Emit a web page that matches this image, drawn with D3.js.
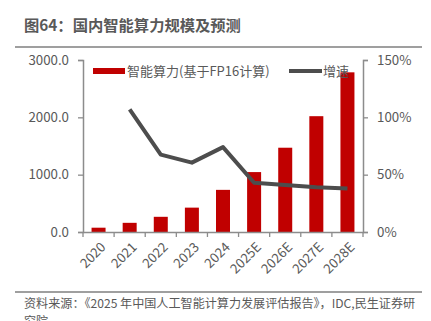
<!DOCTYPE html>
<html><head><meta charset="utf-8">
<script src="https://cdn.jsdelivr.net/npm/d3@7"></script>
<style>body{margin:0;background:#fff}svg{display:block}text{font-family:"Noto Sans CJK SC","Microsoft YaHei",sans-serif}</style>
</head><body>
<script>
const categories = ["2020","2021","2022","2023","2024","2025E","2026E","2027E","2028E"];
const computeValues = [75, 160, 265, 425, 735, 1045, 1470, 2020, 2785];
const growthValues = [null, 107, 67.5, 60.5, 74, 43, 41, 39, 38];
const leftTicks = [0, 1000, 2000, 3000];
const rightTicks = [0, 50, 100, 150];
const titleText = "图64：国内智能算力规模及预测";
const sourceText = "资料来源：《2025 年中国人工智能计算力发展评估报告》，IDC,民生证券研";
const sourceText2 = "究院";
const seriesNames = ["智能算力(基于FP16计算)", "增速"];

const W = 431, H = 321;
const svg = d3.select("body").append("svg").attr("width", W).attr("height", H);
const pL = 83, pR = 363, pT = 60, pB = 232;
const axisColor = "#8c8c8c", textColor = "#595959";

svg.append("text").attr("x", 24).attr("y", 31).attr("font-size", 15.3).attr("font-weight", "bold")
  .attr("fill", "#595959").text(titleText);
svg.append("line").attr("x1", 15).attr("x2", 422).attr("y1", 47).attr("y2", 47)
  .attr("stroke", "#7f7f7f").attr("stroke-width", 1.5);

const xb = d3.scaleBand().domain(categories).range([pL, pR]);
const yL = d3.scaleLinear().domain([0, 3000]).range([pB, pT]);
const yR = d3.scaleLinear().domain([0, 150]).range([pB, pT]);

// bars
svg.append("g").selectAll("rect").data(categories).join("rect")
  .attr("x", d => xb(d) + xb.bandwidth()/2 - 7).attr("width", 14)
  .attr("y", (d,i) => yL(computeValues[i])).attr("height", (d,i) => pB - yL(computeValues[i]))
  .attr("fill", "#c00000");

// line
const lineData = categories.map((c,i) => ({c, v: growthValues[i]})).filter(d => d.v != null);
svg.append("path").datum(lineData)
  .attr("d", d3.line().x(d => xb(d.c) + xb.bandwidth()/2).y(d => yR(d.v)))
  .attr("fill", "none").attr("stroke", "#4d4d4d").attr("stroke-width", 4).attr("stroke-linejoin", "round");

// left axis
const gL = svg.append("g").attr("transform", `translate(${pL},0)`)
  .call(d3.axisLeft(yL).tickValues(leftTicks).tickFormat(d3.format(".1f")).tickSizeOuter(0).tickSize(5).tickPadding(9));
// right axis
const gR = svg.append("g").attr("transform", `translate(${pR},0)`)
  .call(d3.axisRight(yR).tickValues(rightTicks).tickFormat(d => d + "%").tickSizeOuter(0).tickSize(5).tickPadding(9));
// bottom axis
const gB = svg.append("g").attr("transform", `translate(0,${pB})`)
  .call(d3.axisBottom(xb).tickSize(0).tickSizeOuter(0).tickFormat(d => d));
// bottom ticks at band boundaries
svg.append("g").selectAll("line").data(categories.concat(["end"])).join("line")
  .attr("x1", (d,i) => pL + i * xb.step()).attr("x2", (d,i) => pL + i * xb.step())
  .attr("y1", pB).attr("y2", pB + 5).attr("stroke", axisColor).attr("stroke-width", 1.3);

[gL, gR, gB].forEach(g => {
  g.selectAll("path.domain").attr("stroke", axisColor).attr("stroke-width", 1.5);
  g.selectAll(".tick line").attr("stroke", axisColor).attr("stroke-width", 1.3);
  g.selectAll("text").attr("font-size", 13.3).attr("fill", textColor)
    .attr("font-family", "'Noto Sans CJK SC', sans-serif");
});
gB.selectAll(".tick text").attr("text-anchor", "end").attr("dx", 0).attr("dy", 0).attr("y", 0)
  .attr("font-size", 13.3)
  .attr("transform", "translate(8,16) rotate(-45)");

// legend
svg.append("rect").attr("x", 93).attr("y", 68).attr("width", 32).attr("height", 6).attr("fill", "#c00000");
svg.append("text").attr("x", 127).attr("y", 75.5).attr("font-size", 13).attr("fill", textColor).text(seriesNames[0]);
svg.append("line").attr("x1", 289).attr("x2", 322).attr("y1", 71).attr("y2", 71)
  .attr("stroke", "#4d4d4d").attr("stroke-width", 4);
svg.append("text").attr("x", 323).attr("y", 75.5).attr("font-size", 13).attr("fill", textColor).text(seriesNames[1]);

// footer
svg.append("line").attr("x1", 15).attr("x2", 422).attr("y1", 292).attr("y2", 292)
  .attr("stroke", "#7f7f7f").attr("stroke-width", 1.5);
svg.append("text").attr("x", 24).attr("y", 308).attr("font-size", 12.1).attr("fill", textColor).text(sourceText);
svg.append("text").attr("x", 24).attr("y", 326).attr("font-size", 12.1).attr("fill", textColor).text(sourceText2);
</script>
</body></html>
